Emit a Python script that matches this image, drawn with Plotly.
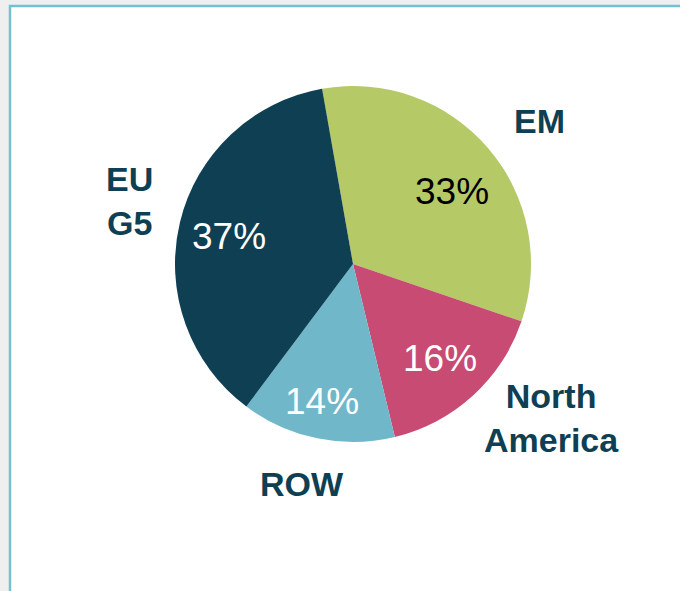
import plotly.graph_objects as go

# Data
regions = ["EM", "North America", "ROW", "EU G5"]
shares = [33, 16, 14, 37]
label_texts = ["EM", "North<br>America", "ROW", "EU<br>G5"]

# Styles
slice_colors = ["#b5c967", "#c84b74", "#6fb7c9", "#0f3f53"]
pct_colors = ["#000000", "#ffffff", "#ffffff", "#ffffff"]
label_color = "#0f3f53"

W, H = 680, 591
# label positions in pixels (center)
label_pos = [(539, 121), (551, 418), (302, 484), (129, 201)]
pct_pos = [(452, 191), (440, 358), (322, 401), (229, 236)]

cx, cy, r = 353, 264, 178

fig = go.Figure()
fig.add_trace(go.Pie(
    labels=regions,
    values=shares,
    sort=False,
    direction="clockwise",
    rotation=-10,
    marker=dict(colors=slice_colors, line=dict(width=0)),
    textinfo="none",
    hoverinfo="label+percent",
    showlegend=False,
    domain=dict(x=[(cx - r) / W, (cx + r) / W],
                y=[(H - cy - r) / H, (H - cy + r) / H]),
))

annotations = []
for txt, (px, py) in zip(label_texts, label_pos):
    annotations.append(dict(
        x=px / W, y=1 - py / H, xref="paper", yref="paper",
        text=txt, showarrow=False, xanchor="center", yanchor="middle",
        font=dict(family="Liberation Sans, Arial, sans-serif", size=34,
                  color=label_color, weight="bold"),
    ))
for v, col, (px, py) in zip(shares, pct_colors, pct_pos):
    annotations.append(dict(
        x=px / W, y=1 - py / H, xref="paper", yref="paper",
        text=f"{v}%", showarrow=False, xanchor="center", yanchor="middle",
        font=dict(family="Liberation Sans, Arial, sans-serif", size=37, color=col),
    ))

fig.update_layout(
    width=W, height=H,
    margin=dict(l=0, r=0, t=0, b=0),
    paper_bgcolor="#efefef",
    plot_bgcolor="#ffffff",
    annotations=annotations,
    shapes=[dict(
        type="rect", xref="paper", yref="paper", layer="below",
        x0=10 / W, x1=1.02, y0=-0.02, y1=1 - 6 / H,
        fillcolor="#ffffff", line=dict(color="#74bfd0", width=2.5),
    )],
)

fig.write_html("out.html")
